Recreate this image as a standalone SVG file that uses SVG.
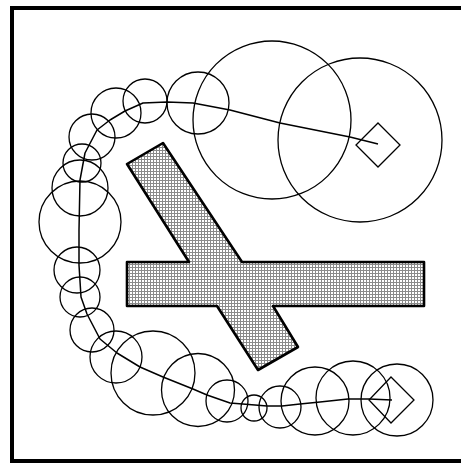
<svg xmlns="http://www.w3.org/2000/svg" width="461" height="464" viewBox="0 0 461 464">
<style>
.c{fill:none;stroke:#000;stroke-width:1.3}
.d{fill:none;stroke:#000;stroke-width:1.3}
.p{fill:none;stroke:#000;stroke-width:1.5;stroke-linejoin:round}
.o{fill:url(#hatch);stroke:#000;stroke-width:2.6;stroke-linejoin:round}
</style>
<defs>
<pattern id="hatch" patternUnits="userSpaceOnUse" width="3" height="3">
<rect width="3" height="3" fill="#fff"/>
<rect width="3" height="1" fill="#8a8a8a"/>
<rect width="1" height="3" fill="#8a8a8a"/>
</pattern>
</defs>
<rect width="461" height="464" fill="#fff"/>
<path d="M463 8 H12 V461 H463" fill="none" stroke="#000" stroke-width="4"/>
<g id="obstacle">
<polygon class="o" points="163,143 242,262 424,262 424,306 273,306 298,347 258,370 217,306 127,306 127,262 189,262 127,164"/>
</g>
<g id="circles">
<circle class="c" cx="272" cy="120" r="79"/>
<circle class="c" cx="360" cy="140" r="82"/>
<circle class="c" cx="198" cy="103" r="31"/>
<circle class="c" cx="145" cy="101" r="22"/>
<circle class="c" cx="116" cy="113" r="25"/>
<circle class="c" cx="92" cy="137" r="23"/>
<circle class="c" cx="82" cy="163" r="19"/>
<circle class="c" cx="80" cy="188" r="28"/>
<circle class="c" cx="80" cy="222" r="41"/>
<circle class="c" cx="77" cy="270" r="23"/>
<circle class="c" cx="80" cy="297" r="20"/>
<circle class="c" cx="92" cy="330" r="22"/>
<circle class="c" cx="116" cy="357" r="26"/>
<circle class="c" cx="153" cy="373" r="42"/>
<circle class="c" cx="198" cy="390" r="36.5"/>
<circle class="c" cx="227" cy="401" r="21"/>
<circle class="c" cx="254" cy="408" r="13"/>
<circle class="c" cx="280" cy="407" r="21"/>
<circle class="c" cx="315" cy="401" r="34"/>
<circle class="c" cx="353" cy="398" r="37"/>
<circle class="c" cx="397" cy="400" r="36"/>
</g>
<g id="start">
<polygon class="d" points="378,123 400,145 378,167 356,145"/>
</g>
<g id="goal">
<polygon class="d" points="391,377 414,400 391,423 369,400"/>
</g>
<g id="connectors">
<polyline class="p" points="378,144 350,137 280,123 230,110 193,103 167,102 143,103 125,111 110,120 97,130 85,153 80,180 79,230 79,265 81,297 87,314 100,339 117,353 140,367 163,377 193,389 207,395 230,403 255,405 267,406 282,406 300,404 320,402 348,399 369,399 392,400"/>
</g>
</svg>
